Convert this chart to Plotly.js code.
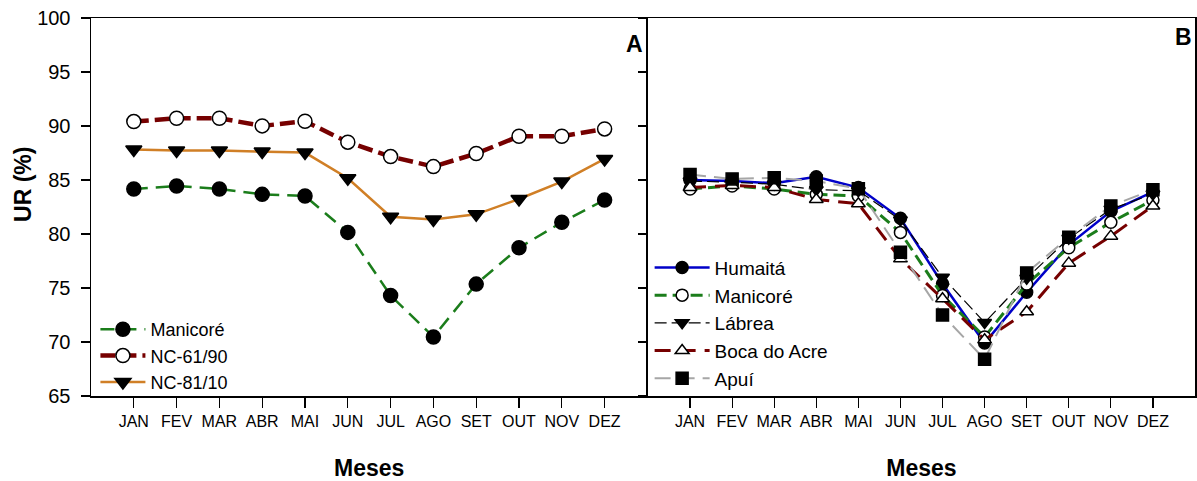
<!DOCTYPE html>
<html>
<head>
<meta charset="utf-8">
<script src="https://cdn.plot.ly/plotly-3.0.1.min.js"></script>
<style>
  html, body { margin: 0; padding: 0; background: #fff; }
  #chart { width: 1197px; height: 481px; }
</style>
</head>
<body>
<div id="chart"></div>
<script>
// Monthly relative humidity (UR, %) – Amazonas stations
const months = ['JAN', 'FEV', 'MAR', 'ABR', 'MAI', 'JUN', 'JUL', 'AGO', 'SET', 'OUT', 'NOV', 'DEZ'];

// Panel A: Manicoré vs climatological normals
const manicore = [84.17, 84.45, 84.17, 83.67, 83.52, 80.15, 74.3, 70.47, 75.36, 78.73, 81.08, 83.15];
const nc6190   = [90.41, 90.72, 90.72, 90.01, 90.44, 88.5, 87.17, 86.24, 87.45, 89.05, 89.05, 89.73];
const nc8110   = [87.82, 87.72, 87.72, 87.63, 87.54, 85.16, 81.6, 81.35, 81.82, 83.24, 84.85, 86.95];

// Panel B: stations
const humaita    = [85.0, 84.9, 84.7, 85.3, 84.3, 81.45, 75.4, 69.9, 74.6, 79.0, 82.1, 83.9];
const manicoreB  = [84.17, 84.45, 84.17, 83.67, 83.52, 80.15, 74.3, 70.47, 75.36, 78.73, 81.08, 83.15];
const labrea     = [84.9, 84.8, 84.6, 84.1, 84.0, 81.3, 76.0, 71.8, 75.9, 79.6, 82.3, 83.7];
const bocaDoAcre = [84.3, 84.5, 84.3, 83.2, 82.8, 77.7, 74.0, 70.2, 72.8, 77.3, 79.8, 82.6];
const apui       = [85.5, 85.1, 85.2, 84.9, 84.2, 78.3, 72.5, 68.4, 76.4, 79.7, 82.6, 84.1];

const FONT = 'Arial, "Liberation Sans", sans-serif';
const GREEN = '#1b7d1b';
const DARKRED = '#760000';
const ORANGE = '#d07f26';
const BLUE = '#0000c8';
const GRAY = '#a6a6a6';

function series(y, name, xa, ya, legend, line, marker) {
  return {
    type: 'scatter', mode: 'lines+markers',
    x: months, y: y, name: name,
    xaxis: xa, yaxis: ya, legend: legend,
    line: line, marker: marker, cliponaxis: false
  };
}

const mk = (symbol, size, fill) => ({
  symbol: symbol, size: size, color: fill,
  line: { color: '#000', width: 1.5 }
});

const traces = [
  series(manicore, 'Manicoré', 'x', 'y', 'legend',
    { color: GREEN, width: 2.5, dash: '14px,8px' }, mk('circle', 14, '#000')),
  series(nc6190, 'NC-61/90', 'x', 'y', 'legend',
    { color: DARKRED, width: 4.5, dash: '15px,6px' }, mk('circle', 14, '#fff')),
  series(nc8110, 'NC-81/10', 'x', 'y', 'legend',
    { color: ORANGE, width: 2.5 }, mk('triangle-down', 14, '#000')),

  series(humaita, 'Humaitá', 'x2', 'y2', 'legend2',
    { color: BLUE, width: 2.5 }, mk('circle', 12, '#000')),
  series(manicoreB, 'Manicoré', 'x2', 'y2', 'legend2',
    { color: GREEN, width: 3, dash: '12px,6px' }, mk('circle', 12, '#fff')),
  series(labrea, 'Lábrea', 'x2', 'y2', 'legend2',
    { color: '#000', width: 1.2, dash: '12px,5px' }, mk('triangle-down', 12, '#000')),
  series(bocaDoAcre, 'Boca do Acre', 'x2', 'y2', 'legend2',
    { color: DARKRED, width: 3, dash: '16px,9px' }, mk('triangle-up', 12, '#fff')),
  series(apui, 'Apuí', 'x2', 'y2', 'legend2',
    { color: GRAY, width: 2, dash: '16px,8px' }, mk('square', 12, '#000'))
];

const xBase = {
  type: 'category', range: [-1, 12], fixedrange: true,
  showline: true, linecolor: '#000', linewidth: 1.5, mirror: true,
  ticks: 'outside', ticklen: 10, tickwidth: 1.2, tickcolor: '#000',
  showgrid: false, zeroline: false,
  tickfont: { family: FONT, size: 16, color: '#000' },
  title: { text: 'Meses', font: { family: FONT, size: 23, color: '#000', weight: 'bold' }, standoff: 32 }
};

const yBase = {
  range: [65, 100], dtick: 5, fixedrange: true,
  showline: true, linecolor: '#000', linewidth: 1.5,
  ticks: 'outside', ticklen: 9, tickwidth: 1.2, tickcolor: '#000',
  showgrid: false, zeroline: false,
  tickfont: { family: FONT, size: 20, color: '#000' }
};

const layout = {
  width: 1197, height: 481,
  margin: { l: 91, r: 2, t: 18, b: 85 },
  paper_bgcolor: '#fff', plot_bgcolor: '#fff',
  font: { family: FONT, color: '#000' },
  showlegend: true,
  xaxis: Object.assign({}, xBase, { domain: [0, 0.504], anchor: 'y' }),
  yaxis: Object.assign({}, yBase, { anchor: 'x', mirror: false, ticklabelstandoff: 6 }),
  xaxis2: Object.assign({}, xBase, { domain: [0.5045, 1], anchor: 'y2' }),
  yaxis2: Object.assign({}, yBase, { anchor: 'x2', mirror: true, showticklabels: false, ticklen: 8 }),
  legend: {
    x: 0.004, y: 0.225, xanchor: 'left', yanchor: 'top',
    bgcolor: 'rgba(0,0,0,0)', borderwidth: 0, tracegroupgap: 0, itemwidth: 45,
    font: { family: FONT, size: 18, color: '#000' }
  },
  legend2: {
    x: 0.506, y: 0.39, xanchor: 'left', yanchor: 'top',
    bgcolor: 'rgba(0,0,0,0)', borderwidth: 0, tracegroupgap: 0, itemwidth: 55,
    font: { family: FONT, size: 19, color: '#000' }
  },
  annotations: [
    { text: 'UR (%)', xref: 'paper', yref: 'paper', x: -0.061, y: 0.56,
      xanchor: 'center', yanchor: 'middle', textangle: -90, showarrow: false,
      font: { family: FONT, size: 23, color: '#000', weight: 'bold' } },
    { text: 'A', xref: 'paper', yref: 'paper', x: 0.502, y: 0.93,
      xanchor: 'right', yanchor: 'middle', showarrow: false,
      font: { family: FONT, size: 23, color: '#000', weight: 'bold' } },
    { text: 'B', xref: 'paper', yref: 'paper', x: 0.999, y: 0.95,
      xanchor: 'right', yanchor: 'middle', showarrow: false,
      font: { family: FONT, size: 23, color: '#000', weight: 'bold' } }
  ]
};

Plotly.newPlot('chart', traces, layout, { staticPlot: true, displayModeBar: false });
</script>
</body>
</html>
